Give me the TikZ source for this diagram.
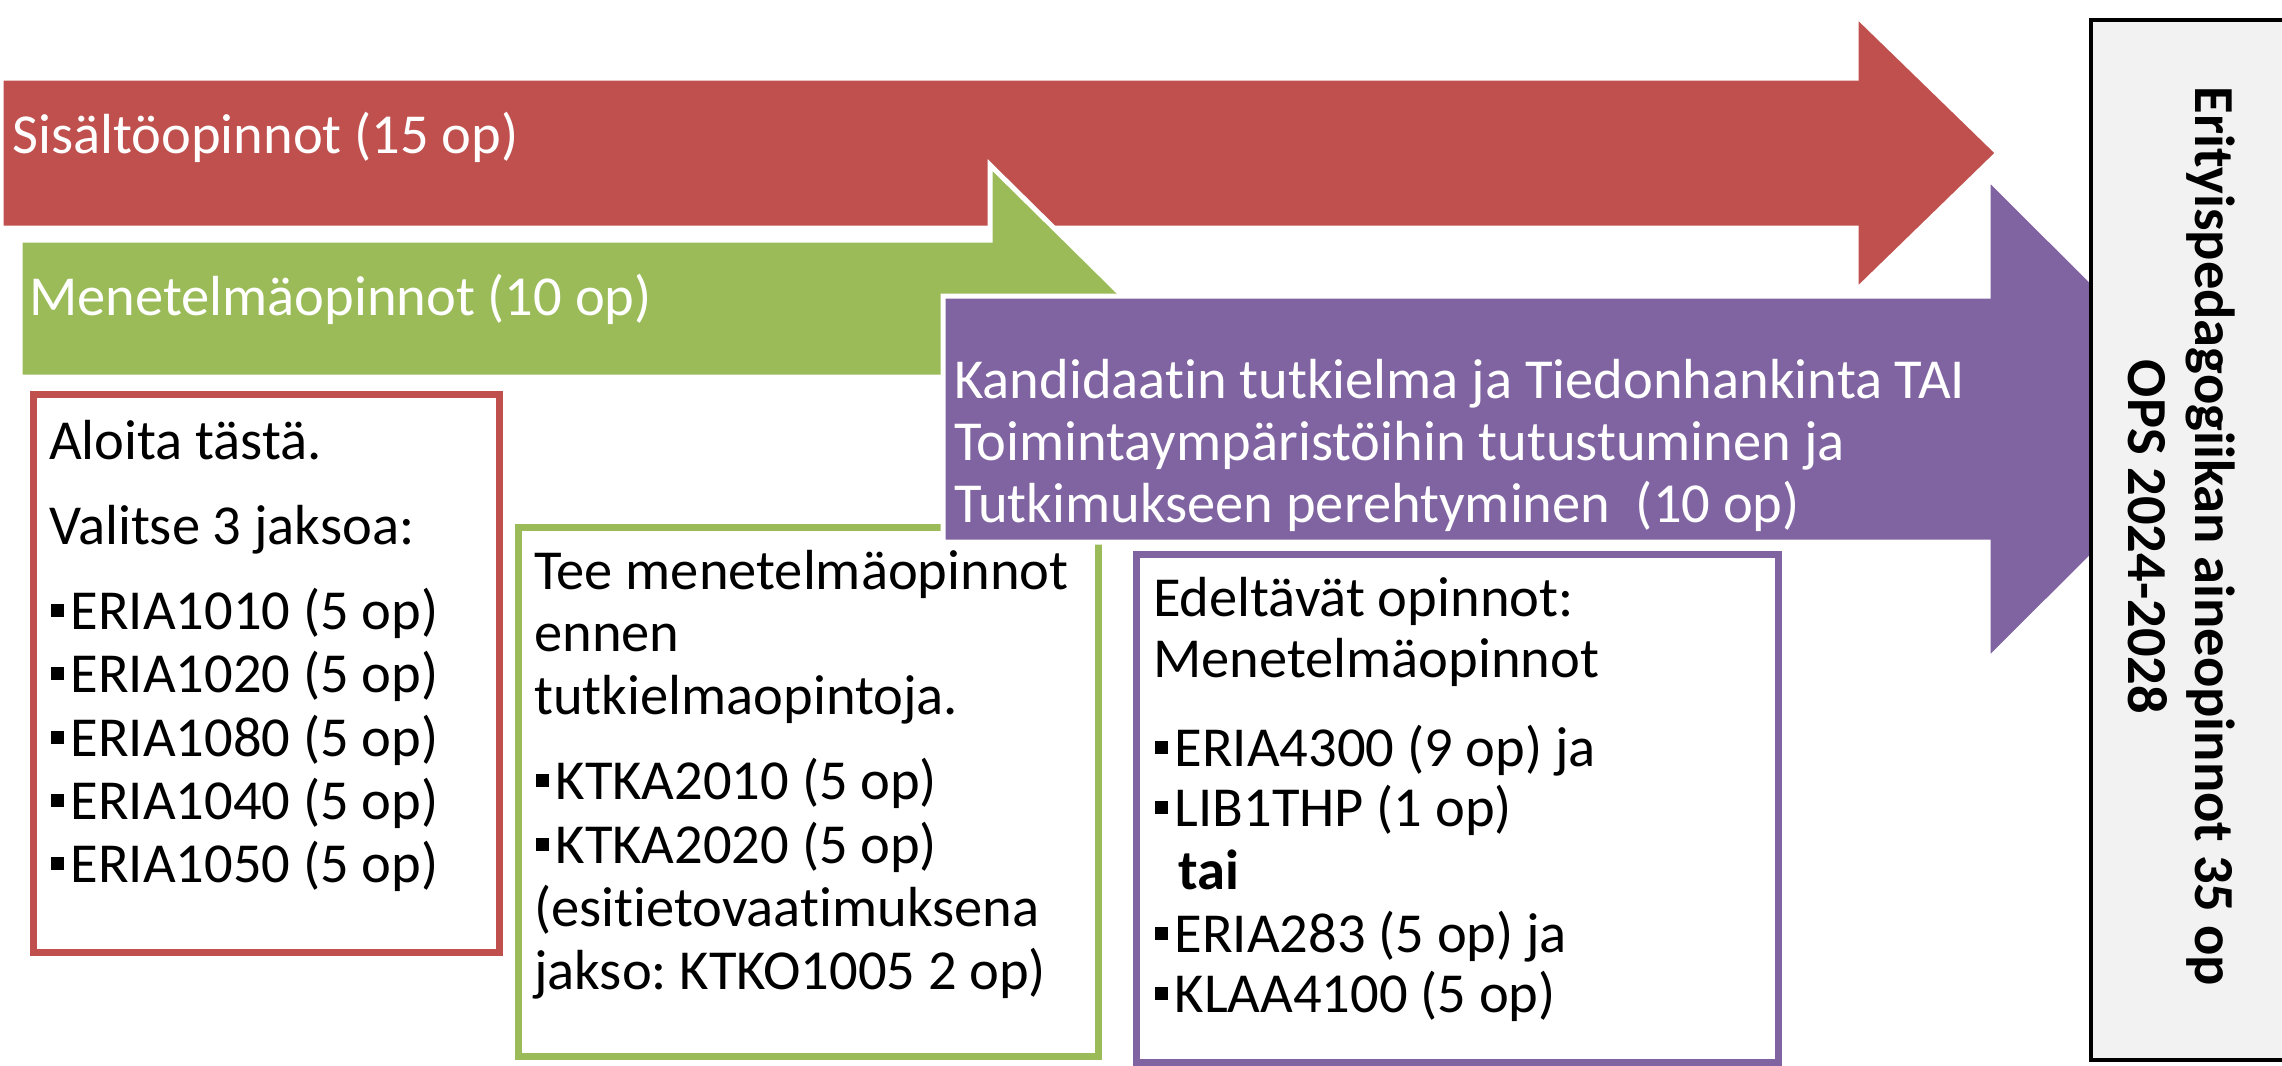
\documentclass[tikz,border=0pt]{standalone}
\usepackage{fontspec}
\setmainfont{Carlito}[Ligatures=NoCommon]
\frenchspacing
\definecolor{accred}{HTML}{C0504D}
\definecolor{accgreen}{HTML}{9BBB59}
\definecolor{accpurple}{HTML}{8064A2}
\definecolor{boxgray}{HTML}{F2F2F2}
\newcommand\bul{\hspace{0.04em}\raisebox{0.22em}{\rule{0.22em}{0.22em}}\hspace{0.12em}}
\newcommand\bigtext{\fontsize{56.5}{64}\selectfont}
\begin{document}
\begin{tikzpicture}[x=1pt,y=-1pt,
  arrowshape/.style={draw=white, line width=5pt, line join=miter},
  lbl/.style={anchor=base west, inner sep=0pt, text=white, font=\bigtext},
  txt/.style={anchor=base west, inner sep=0pt, text=black, font=\bigtext},
  frame/.style={line width=7pt, fill=white},
  vert/.style={anchor=base, inner sep=0pt, rotate=-90, text=black, font=\bfseries\bigtext},
]
\useasboundingbox (0,0) rectangle (2282,1065);
\clip (0,0) rectangle (2282,1065);
\fill[white] (0,0) rectangle (2282,1065);

% red arrow
\filldraw[arrowshape, fill=accred] (1,78) -- (1856,78) -- (1856,15) -- (1998,153)
  -- (1856,291) -- (1856,228) -- (1,228) -- cycle;
% green arrow
\filldraw[arrowshape, fill=accgreen] (20,240) -- (990,240) -- (990,165) -- (1135,308)
  -- (990,452) -- (990,377) -- (20,377) -- cycle;
\node[lbl] (sis) at (12,153) {Sisältöopinnot (15 op)};
\node[lbl] (men) at (29,315) {Menetelmäopinnot (10 op)};

% red box
\draw[frame, draw=accred] (33,394) rectangle (499,952);
\node[txt] (r1) at (49,459) {Aloita tästä.};
\node[txt] (r2) at (49,544) {Valitse 3 jaksoa:};
\node[txt] (r3) at (49,629) {\bul ERIA1010 (5 op)};
\node[txt] (r4) at (49,692) {\bul ERIA1020 (5 op)};
\node[txt] (r5) at (49,756) {\bul ERIA1080 (5 op)};
\node[txt] (r6) at (49,819) {\bul ERIA1040 (5 op)};
\node[txt] (r7) at (49,882) {\bul ERIA1050 (5 op)};

% green box
\draw[frame, draw=accgreen] (518,527) rectangle (1098,1056);
\node[txt] (g1) at (534,589) {Tee menetelmäopinnot};
\node[txt] (g2) at (534,651) {ennen};
\node[txt] (g3) at (534,714) {tutkielmaopintoja.};
\node[txt] (g4) at (534,799) {\bul KTKA2010 (5 op)};
\node[txt] (g5) at (534,863) {\bul KTKA2020 (5 op)};
\node[txt] (g6) at (534,926) {(esitietovaatimuksena};
\node[txt] (g7) at (534,989) {jakso: KTKO1005 2 op)};

% purple arrow
\filldraw[arrowshape, fill=accpurple] (943,296) -- (1988,296) -- (1988,178) -- (2230,419)
  -- (1988,660) -- (1988,542) -- (943,542) -- cycle;
\node[lbl] (k1) at (954,398) {Kandidaatin tutkielma ja Tiedonhankinta TAI};
\node[lbl] (k2) at (954,460) {Toimintaympäristöihin tutustuminen ja};
\node[lbl] (k3) at (954,522) {Tutkimukseen perehtyminen~~(10 op)};

% purple box
\draw[frame, draw=accpurple] (1136,554) rectangle (1778,1062);
\node[txt] (p1) at (1153,616) {Edeltävät opinnot:};
\node[txt] (p2) at (1153,677) {Menetelmäopinnot};
\node[txt] (p3) at (1153,766) {\bul ERIA4300 (9 op) ja};
\node[txt] (p4) at (1153,826) {\bul LIB1THP (1 op)};
\node[txt, font=\bfseries\bigtext] (p5) at (1178,889) {tai};
\node[txt] (p6) at (1153,952) {\bul ERIA283 (5 op) ja};
\node[txt] (p7) at (1153,1012) {\bul KLAA4100 (5 op)};

% title box
\draw[fill=boxgray, draw=black, line width=4pt] (2091,20) rectangle (2300,1060);
\node[vert] (t1) at (2195,536) {Erityispedagogiikan aineopinnot 35 op};
\node[vert] (t2) at (2128,537) {OPS 2024-2028};
\end{tikzpicture}
\end{document}
